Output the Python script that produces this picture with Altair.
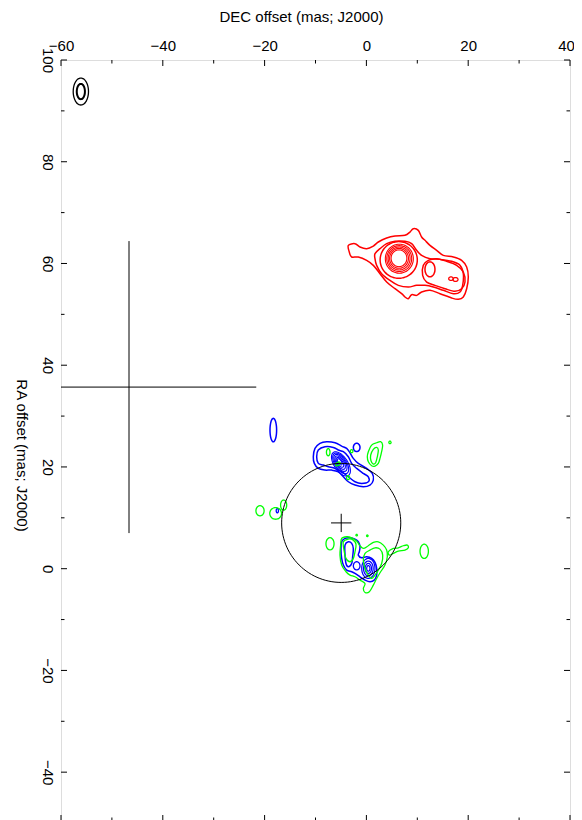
import numpy as np
import pandas as pd
import altair as alt

# ---------------- axes ----------------
X_DOMAIN = [-60, 40]
Y_DOMAIN = [-49.6, 100]
X_MAJOR = [-60, -40, -20, 0, 20, 40]
X_MINOR = [-50, -30, -10, 10, 30]
Y_MAJOR = [-40, -20, 0, 20, 40, 60, 80, 100]
Y_MINOR = [-30, -10, 10, 30, 50, 70, 90]
X_TITLE = "DEC offset (mas; J2000)"
Y_TITLE = "RA offset (mas; J2000)"

# ---------------- red contours (freehand, data units) ----------------
RED_OUTER = [(-3.55, 63.56), (-2.24, 63.89), (-1.26, 63.24), (0.05, 62.91), (1.36, 63.43),
             (2.34, 64.22), (3.98, 65.0), (5.62, 65.40), (7.58, 65.53), (8.56, 66.18),
             (9.22, 66.84), (10.2, 66.51), (10.85, 65.2), (11.51, 64.55), (12.49, 63.56),
             (13.8, 62.58), (15.11, 61.6), (17.08, 61.27), (18.71, 60.61), (19.7, 59.3),
             (20.02, 57.34), (19.7, 55.04), (19.04, 53.41), (18.06, 52.95), (16.75, 53.21),
             (14.46, 54.06), (12.49, 54.72), (10.85, 54.39), (9.87, 53.73), (8.89, 53.86),
             (8.23, 53.08), (7.58, 53.41), (6.92, 54.06), (5.62, 55.04), (3.98, 56.35),
             (2.67, 57.99), (1.36, 59.63), (0.05, 60.61), (-1.59, 61.27), (-2.9, 61.27),
             (-3.36, 62.25)]
RED_SECOND = [(1.69, 61.92), (2.67, 62.91), (3.98, 63.89), (5.62, 64.35), (7.58, 64.35),
              (8.89, 63.89), (9.87, 62.58), (10.85, 61.6), (12.49, 60.94), (14.46, 60.81),
              (16.75, 60.42), (18.39, 59.63), (19.04, 57.99), (18.91, 55.7), (18.39, 54.39),
              (17.08, 54.06), (15.11, 54.72), (13.15, 55.37), (11.51, 55.7), (9.87, 55.7),
              (8.23, 55.37), (6.27, 55.7), (4.63, 56.68), (2.99, 57.99), (2.01, 59.63),
              (1.69, 60.94)]
RED_EAST = [(11.18, 59.63), (12.16, 60.61), (13.8, 60.94), (15.77, 60.42), (17.73, 59.63),
            (19.04, 58.32), (19.37, 56.35), (18.71, 55.04), (17.4, 54.52), (15.44, 55.04),
            (13.47, 55.7), (11.84, 56.35), (11.05, 57.66)]
# rings: (cx, cy, semi_x, semi_y, angle_deg, line width)
RED_RINGS = [(6.35, 60.7, 3.65, 3.6, 0, 1.5), (6.47, 60.94, 2.75, 2.85, 0, 1.1),
             (6.45, 60.96, 2.45, 2.55, 0, 1.1), (6.43, 60.98, 2.15, 2.25, 0, 1.1),
             (6.41, 61.0, 1.85, 1.95, 0, 1.1), (6.4, 61.02, 1.55, 1.65, 0, 1.1),
             (12.49, 58.85, 0.98, 1.47, 0, 1.5),
             (16.62, 57.01, 0.45, 0.35, 0, 1.3), (17.5, 56.85, 0.5, 0.38, 0, 1.3)]

# ---------------- blue contours ----------------
BLUE_N_OUTER = [(-10.43, 22.01), (-10.1, 23.64), (-9.12, 24.63), (-7.81, 24.95), (-6.17, 24.76),
                (-4.86, 24.1), (-3.88, 23.64), (-3.22, 22.79), (-2.57, 21.68), (-1.59, 20.7),
                (0.05, 19.71), (1.16, 18.73), (1.36, 17.42), (0.7, 16.44), (-0.6, 16.11),
                (-2.24, 16.44), (-3.55, 17.09), (-4.53, 18.07), (-5.52, 19.06), (-6.83, 19.38),
                (-8.14, 19.38), (-9.45, 19.71), (-10.23, 20.7)]
BLUE_N_INNER = [(-9.77, 22.01), (-9.45, 23.32), (-8.14, 23.97), (-6.5, 23.84), (-5.52, 23.32),
                (-4.53, 22.99), (-3.55, 22.01), (-2.9, 20.7), (-1.91, 19.71), (-0.6, 18.73),
                (0.38, 18.07), (0.38, 17.09), (-0.93, 16.76), (-2.24, 17.09), (-3.55, 18.07),
                (-4.86, 19.06), (-6.17, 19.71), (-7.48, 20.04), (-8.46, 20.37), (-9.45, 20.7)]
BLUE_S_OUTER = [(-4.99, 3.66), (-4.86, 5.29), (-4.2, 5.95), (-3.22, 6.08), (-2.24, 5.82),
                (-1.59, 5.29), (-1.26, 4.31), (-1.39, 3.33), (-1.59, 2.67), (-0.93, 2.15),
                (0.05, 2.34), (1.04, 2.02), (1.69, 1.23), (2.02, 0.05), (2.02, -1.26),
                (1.56, -2.24), (0.71, -2.57), (-0.27, -2.24), (-1.26, -1.59), (-2.24, -0.93),
                (-2.89, -0.6), (-3.88, -0.28), (-4.53, 0.71), (-4.86, 2.02)]
BLUE_S_LOOP = [(-4.2, 4.64), (-3.55, 5.29), (-2.89, 4.97), (-2.57, 3.98), (-2.7, 2.35),
               (-2.89, 1.03), (-3.55, 0.38), (-4.01, 1.03), (-4.2, 2.67)]
BLUE_RINGS = [(-5.0, 20.6, 2.7, 1.35, -57, 1.1), (-5.05, 20.7, 2.3, 1.12, -57, 1.1),
              (-5.1, 20.8, 1.9, 0.92, -57, 1.1), (-5.15, 20.85, 1.5, 0.72, -57, 1.1),
              (-5.2, 20.9, 1.1, 0.52, -57, 1.1), (-5.25, 21.0, 0.7, 0.33, -57, 1.1),
              (-1.91, 23.84, 0.65, 0.82, 0, 1.5), (-18.29, 27.25, 0.65, 2.3, 0, 1.5),
              (-17.5, 11.4, 0.22, 0.42, 0, 1.3), (-1.91, 0.57, 0.65, 0.8, 0, 1.3),
              (0.38, 0.05, 1.3, 1.97, 0, 1.2), (0.38, 0.05, 0.95, 1.45, 0, 1.2),
              (0.38, 0.05, 0.62, 0.98, 0, 1.2), (0.38, 0.05, 0.32, 0.55, 0, 1.2)]

# ---------------- green contours ----------------
GREEN_NE_OUTER = [(0.38, 22.99), (1.03, 24.3), (2.01, 24.76), (2.8, 24.96), (3.19, 24.3),
                  (2.99, 22.99), (2.67, 21.68), (2.34, 20.7), (1.69, 20.17), (1.03, 20.24),
                  (0.38, 21.02), (0.18, 22.01)]
GREEN_NE_INNER = [(0.84, 22.34), (1.36, 23.45), (2.01, 23.84), (2.34, 23.32), (2.15, 22.01),
                  (1.82, 20.83), (1.36, 20.57), (0.9, 21.22)]
GREEN_S_OUTER = [(-4.86, 5.95), (-3.88, 6.28), (-2.89, 6.08), (-1.91, 5.42), (-1.26, 4.51),
                 (-0.6, 3.98), (0.38, 4.51), (1.36, 5.16), (2.34, 5.29), (3.33, 4.64),
                 (3.98, 3.66), (4.11, 2.35), (3.65, 0.71), (2.8, -0.6), (2.02, -1.92),
                 (1.36, -3.23), (0.58, -4.54), (-0.27, -4.67), (-0.6, -3.88), (-0.27, -2.9),
                 (-1.26, -2.24), (-2.24, -1.59), (-3.22, -1.26), (-4.01, -0.6), (-4.86, 0.71),
                 (-5.19, 2.67), (-5.06, 4.64)]
GREEN_S_INNER = [(-0.27, 3.0), (0.71, 3.66), (1.69, 4.11), (2.67, 3.85), (3.2, 2.67),
                 (3.0, 1.03), (2.34, -0.28), (1.69, -1.26), (1.04, -1.92), (0.38, -1.26),
                 (-0.27, 0.05), (-0.6, 1.69)]
GREEN_S_WEST = [(-4.53, 5.29), (-3.55, 5.82), (-2.57, 5.62), (-2.04, 4.77), (-2.24, 3.33),
                (-2.57, 2.02), (-3.22, 1.36), (-4.01, 2.02), (-4.4, 3.66)]
GREEN_SPUR = [(4.31, 3.33), (5.29, 3.98), (6.27, 4.11), (7.26, 4.51), (8.04, 4.64),
              (8.24, 4.11), (7.58, 3.66), (6.27, 3.46), (5.29, 3.0), (4.51, 2.67)]
GREEN_RINGS = [(4.63, 24.83, 0.22, 0.25, 0), (-20.9, 11.39, 0.8, 1.0, 0),
               (-17.83, 10.87, 1.15, 1.15, 0), (-16.26, 12.5, 0.6, 1.0, 0),
               (-7.15, 4.9, 0.79, 1.2, 0), (11.36, 3.42, 0.82, 1.4, 0),
               (-1.91, 6.6, 0.15, 0.15, 0), (0.18, 6.47, 0.15, 0.15, 0),
               (-7.5, 22.9, 0.35, 0.7, 0), (-5.6, 20.6, 0.3, 0.5, -57),
               (-2.9, 23.1, 0.25, 0.3, 0), (-3.6, 17.9, 0.3, 0.4, 0)]

# ---------------- black elements ----------------
BEAM = [(-56.1, 93.8, 1.5, 2.65, 0, 1.3), (-56.1, 93.8, 0.8, 1.5, 0, 2.0)]
CIRCLE = (-4.95, 9.0, 11.7, 11.7, 0)
BIG_CROSS = (-46.64, 35.7, 25.0, 28.7)     # centre x, centre y, half-width, half-height
SMALL_CROSS = (-4.95, 9.0, 2.0, 1.8)

RED, BLUE, GREEN, BLACK = "#ff0000", "#0000ff", "#00ff00", "#000000"

# ---------------- build tables ----------------
rows = []


def add_poly(name, pts, color, width):
    for i, (x, y) in enumerate(pts):
        rows.append(dict(id=name, i=i, x=x, y=y, c=color, w=width))


def add_ellipse(name, cx, cy, a, b, ang, color, width, n=64):
    t = np.linspace(0, 2 * np.pi, n, endpoint=False)
    th = np.deg2rad(ang)
    ex, ey = a * np.cos(t), b * np.sin(t)
    xs = cx + ex * np.cos(th) - ey * np.sin(th)
    ys = cy + ex * np.sin(th) + ey * np.cos(th)
    for i, (x, y) in enumerate(zip(xs, ys)):
        rows.append(dict(id=name, i=i, x=float(x), y=float(y), c=color, w=width))


for nm, p in [("ro", RED_OUTER), ("r2", RED_SECOND), ("re", RED_EAST)]:
    add_poly(nm, p, RED, 1.5)
for k, (cx, cy, a, b, ang, w) in enumerate(RED_RINGS):
    add_ellipse(f"rr{k}", cx, cy, a, b, ang, RED, w)
for nm, p in [("bno", BLUE_N_OUTER), ("bni", BLUE_N_INNER), ("bso", BLUE_S_OUTER), ("bsl", BLUE_S_LOOP)]:
    add_poly(nm, p, BLUE, 1.5)
for k, (cx, cy, a, b, ang, w) in enumerate(BLUE_RINGS):
    add_ellipse(f"br{k}", cx, cy, a, b, ang, BLUE, w)
for nm, p in [("gno", GREEN_NE_OUTER), ("gni", GREEN_NE_INNER), ("gso", GREEN_S_OUTER),
              ("gsi", GREEN_S_INNER), ("gsw", GREEN_S_WEST), ("gsp", GREEN_SPUR)]:
    add_poly(nm, p, GREEN, 1.3)
for k, e in enumerate(GREEN_RINGS):
    add_ellipse(f"gr{k}", *e, GREEN, 1.3)
for k, (cx, cy, a, b, ang, w) in enumerate(BEAM):
    add_ellipse(f"beam{k}", cx, cy, a, b, ang, BLACK, w)
add_ellipse("circle", *CIRCLE, BLACK, 1.0, n=120)

contours = pd.DataFrame(rows)

segs = []
for (cx, cy, hx, hy) in [BIG_CROSS, SMALL_CROSS]:
    segs.append(dict(x=cx - hx, x2=cx + hx, y=cy, y2=cy))
    segs.append(dict(x=cx, x2=cx, y=cy - hy, y2=cy + hy))
segs = pd.DataFrame(segs)

W, H = 509, 761
FONT = "Liberation Sans"

xscale = alt.Scale(domain=X_DOMAIN, nice=False, zero=False)
yscale = alt.Scale(domain=Y_DOMAIN, nice=False, zero=False)
xaxis = alt.Axis(orient="top", values=X_MAJOR, ticks=False, tickSize=0, domain=False, grid=False,
                 labelFont=FONT, labelFontSize=15, labelColor="black", labelPadding=10,
                 labelBaseline="alphabetic", labelAlign="center", labelFlush=False, labelOverlap=False,
                 labelOffset={"condition": {"test": "datum.value == 40", "value": -4}, "value": 0},
                 format="d", title=X_TITLE, titleFont=FONT, titleFontSize=15, titleFontWeight="normal",
                 titleColor="black", titleX=240, titleY=-39, titleAlign="center",
                 titleBaseline="alphabetic")
yaxis = alt.Axis(orient="left", values=Y_MAJOR, ticks=False, tickSize=0, domain=False, grid=False,
                 labelFont=FONT, labelFontSize=15, labelColor="black", labelPadding=19,
                 labelAngle=90, labelBaseline="alphabetic", labelAlign="center", labelFlush=False,
                 labelOverlap=False, format="d",
                 title=Y_TITLE, titleFont=FONT, titleFontSize=15, titleFontWeight="normal",
                 titleColor="black", titleAngle=90, titleX=-45, titleY=395, titleAlign="center",
                 titleBaseline="alphabetic")

X = alt.X("x:Q", scale=xscale, axis=xaxis)
Y = alt.Y("y:Q", scale=yscale, axis=yaxis)

lines = alt.Chart(contours).mark_line(interpolate="cardinal-closed", clip=True).encode(
    x=X, y=Y, detail="id:N", order="i:Q",
    color=alt.Color("c:N", scale=None),
    strokeWidth=alt.StrokeWidth("w:Q", scale=None),
)

crosses = alt.Chart(segs).mark_rule(color="black", strokeWidth=1, clip=True).encode(
    x=X, x2="x2:Q", y=Y, y2="y2:Q")

tick_style = dict(color="black", strokeWidth=1)
layers = [lines, crosses]
for vals, L in [(X_MAJOR, 6), (X_MINOR, 3.5)]:
    d = pd.DataFrame({"x": vals})
    layers.append(alt.Chart(d).mark_rule(**tick_style).encode(x=X, y=alt.value(0), y2=alt.value(L)))
    layers.append(alt.Chart(d).mark_rule(**tick_style).encode(x=X, y=alt.value(H), y2=alt.value(H - L)))
for vals, L in [(Y_MAJOR, 6), (Y_MINOR, 3.5)]:
    d = pd.DataFrame({"y": vals})
    layers.append(alt.Chart(d).mark_rule(**tick_style).encode(y=Y, x=alt.value(0), x2=alt.value(L)))
    layers.append(alt.Chart(d).mark_rule(**tick_style).encode(y=Y, x=alt.value(W), x2=alt.value(W - L)))

chart = alt.layer(*layers).properties(
    width=W, height=H,
    autosize=alt.AutoSizeParams(type="none"),
    padding={"left": 53, "top": 52, "right": 4, "bottom": 0},
).configure_view(stroke="black", strokeWidth=1).configure(background="white")

chart.save("out.html", embed_options={"renderer": "svg", "actions": False})
